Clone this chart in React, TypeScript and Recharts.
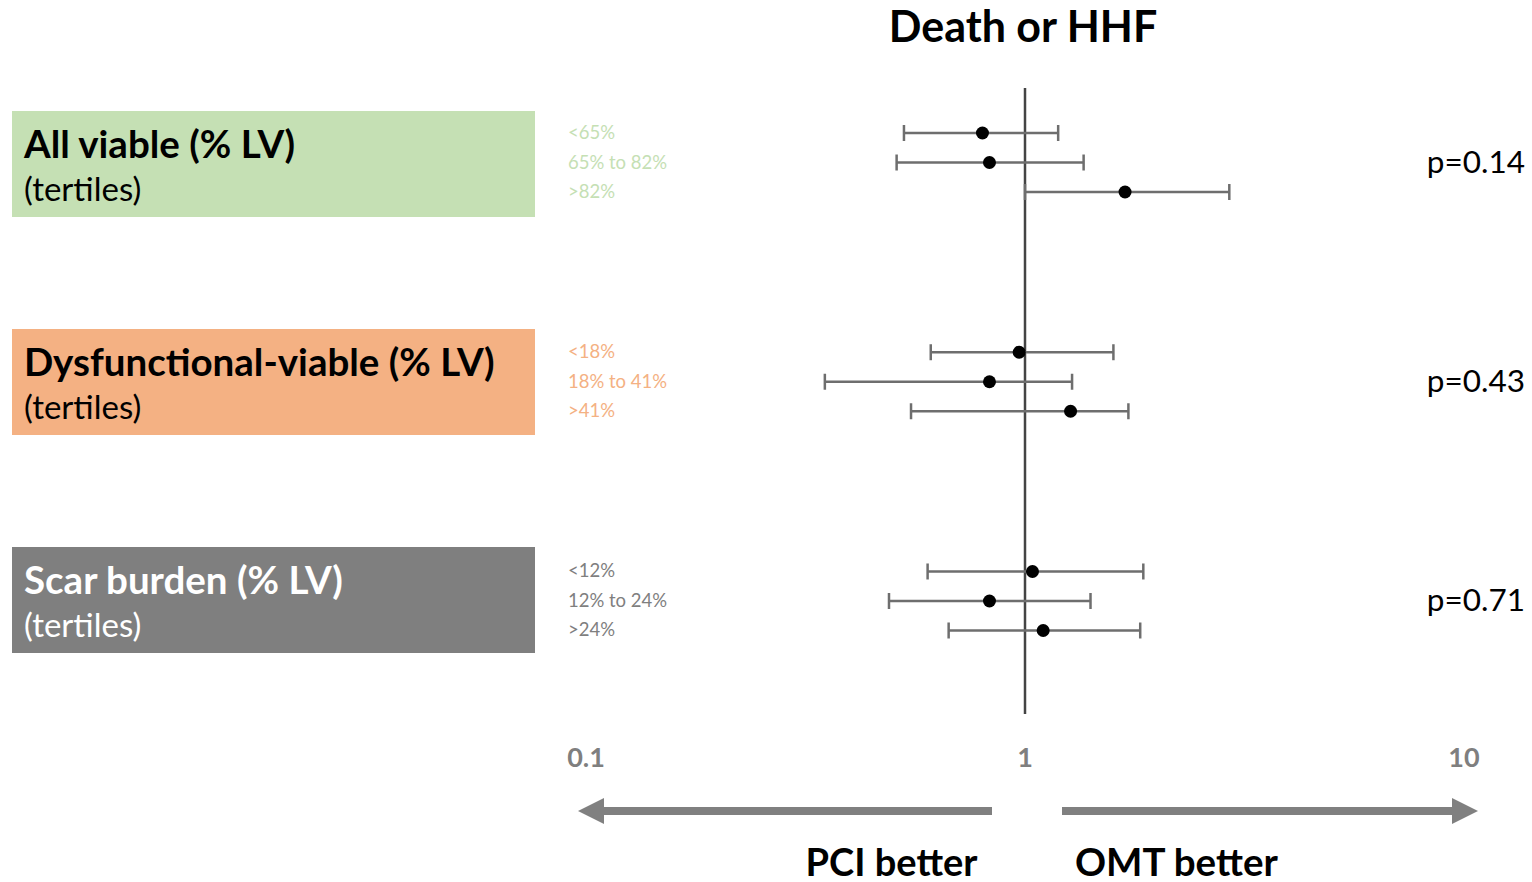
import React from 'react';
import {
  ScatterChart,
  Scatter,
  XAxis,
  YAxis,
  ErrorBar,
  ReferenceLine,
} from 'recharts';

// forest plot data (hazard ratio, log scale)
const groupTitles = ['All viable (% LV)', 'Dysfunctional-viable (% LV)', 'Scar burden (% LV)'];
const groupColors = ['#c5e0b4', '#f4b183', '#7f7f7f'];
const groupTextColors = ['#000000', '#000000', '#ffffff'];
const tertileLabels = [
  ['<65%', '65% to 82%', '>82%'],
  ['<18%', '18% to 41%', '>41%'],
  ['<12%', '12% to 24%', '>24%'],
];
const hazardRatio = [0.8, 0.83, 1.69, 0.97, 0.83, 1.27, 1.04, 0.83, 1.1];
const ciLow = [0.53, 0.51, 1.0, 0.61, 0.35, 0.55, 0.6, 0.49, 0.67];
const ciHigh = [1.19, 1.36, 2.92, 1.59, 1.28, 1.72, 1.86, 1.41, 1.83];
const pValues = ['p=0.14', 'p=0.43', 'p=0.71'];
const xTicks = [0.1, 1, 10];

const GROUP_GAP = 7.43;
const FONT = 'Lato, "Open Sans", sans-serif';

const rows = hazardRatio.map((hr, idx) => {
  const g = Math.floor(idx / 3);
  const i = idx % 3;
  return {
    hr,
    pos: g * GROUP_GAP + i,
    err: [hr - ciLow[idx], ciHigh[idx] - hr],
    label: tertileLabels[g][i],
    color: groupColors[g],
    p: i === 1 ? pValues[g] : null,
  };
});
const rowTicks = rows.map(r => r.pos);

// tertile label on the left, p-value on the right for the middle row of each group
const RowTick = ({ y, payload }: any) => {
  const row = rows.find(r => Math.abs(r.pos - payload.value) < 1e-6);
  if (!row) return null;
  return (
    <g>
      <text x={568} y={y} dy={6} textAnchor="start" fontSize={18.5} fill={row.color} fontFamily={FONT}>
        {row.label}
      </text>
      {row.p && (
        <text x={1525} y={y} dy={10} textAnchor="end" fontSize={31.5} fill="#000" fontFamily={FONT}>
          {row.p}
        </text>
      )}
    </g>
  );
};

export default function App() {
  return (
    <div style={{ position: 'relative', width: 1532, height: 882, background: '#fff', fontFamily: FONT }}>
      <style>{'body{margin:0}'}</style>

      {/* Title */}
      <div style={{ position: 'absolute', left: 0, width: 2046, top: 0, textAlign: 'center', fontSize: 43, fontWeight: 700 }}>
        Death or HHF
      </div>

      {/* Group boxes */}
      {groupTitles.map((t, g) => (
        <div
          key={t}
          style={{
            position: 'absolute',
            left: 12,
            top: 111 + g * 218,
            width: 523,
            height: 106,
            background: groupColors[g],
            color: groupTextColors[g],
            boxSizing: 'border-box',
            padding: '9px 0 0 12px',
          }}
        >
          <div style={{ fontSize: 38.5, fontWeight: 700, lineHeight: '46px' }}>{t}</div>
          <div style={{ fontSize: 33, lineHeight: '44px' }}>(tertiles)</div>
        </div>
      ))}

      <div style={{ position: 'absolute', left: 0, top: 0 }}>
        <ScatterChart width={1532} height={882} margin={{ top: 88, right: 68, bottom: 0, left: 0 }}>
          <XAxis
            type="number"
            dataKey="hr"
            scale="log"
            domain={[0.1, 10]}
            ticks={xTicks}
            allowDataOverflow
            axisLine={false}
            tickLine={false}
            tickMargin={28}
            height={168}
            tick={{ fill: '#7f7f7f', fontSize: 27, fontWeight: 700, fontFamily: FONT }}
          />
          <YAxis
            type="number"
            dataKey="pos"
            reversed
            domain={[-1.525, 19.69]}
            ticks={rowTicks}
            width={586}
            axisLine={false}
            tickLine={false}
            tick={<RowTick />}
          />
          <ReferenceLine x={1} stroke="#444" strokeWidth={2.5} />
          <Scatter
            data={rows}
            isAnimationActive={false}
            shape={(p: any) => <circle cx={p.cx} cy={p.cy} r={6.5} fill="#000" />}
          >
            <ErrorBar dataKey="err" direction="x" width={8} stroke="#6e6e6e" strokeWidth={2.5} />
          </Scatter>
        </ScatterChart>
      </div>

      {/* Direction arrows */}
      <svg style={{ position: 'absolute', left: 0, top: 0 }} width={1532} height={882}>
        <line x1={600} y1={811} x2={992} y2={811} stroke="#808080" strokeWidth={8} />
        <polygon points="578,811 604,798 604,824" fill="#808080" />
        <line x1={1062} y1={811} x2={1456} y2={811} stroke="#808080" strokeWidth={8} />
        <polygon points="1478,811 1452,798 1452,824" fill="#808080" />
      </svg>
      <div style={{ position: 'absolute', left: 0, width: 1783, top: 838, textAlign: 'center', fontSize: 38, fontWeight: 700 }}>
        PCI better
      </div>
      <div style={{ position: 'absolute', left: 1075, top: 838, fontSize: 38.5, fontWeight: 700 }}>
        OMT better
      </div>
    </div>
  );
}
